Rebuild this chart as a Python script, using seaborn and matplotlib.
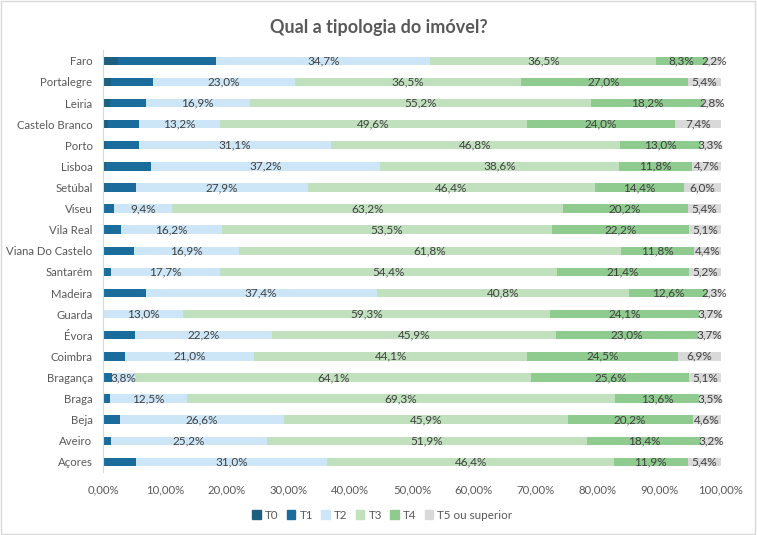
import numpy as np
import pandas as pd
import matplotlib
matplotlib.use("Agg")
import matplotlib.pyplot as plt
import matplotlib.patches as mpatches
import seaborn as sns

# Data (percent)
regions = ['Faro', 'Portalegre', 'Leiria', 'Castelo Branco', 'Porto', 'Lisboa',
           'Setúbal', 'Viseu', 'Vila Real', 'Viana Do Castelo', 'Santarém',
           'Madeira', 'Guarda', 'Évora', 'Coimbra', 'Bragança', 'Braga',
           'Beja', 'Aveiro', 'Açores']
t0 = [2.4, 1.3, 1.1, 0.8, 0.5, 0.5, 0.3, 0.0, 0.0, 0.0, 0.0,
      0.0, 0.0, 0.0, 0.0, 0.0, 0.0, 0.0, 0.0, 0.0]
t1 = [15.9, 6.8, 5.8, 5.0, 5.3, 7.2, 5.0, 1.8, 3.0, 5.1, 1.3,
      6.9, 0.0, 5.2, 3.5, 1.4, 1.1, 2.7, 1.3, 5.3]
t2 = [34.7, 23.0, 16.9, 13.2, 31.1, 37.2, 27.9, 9.4, 16.2, 16.9, 17.7,
      37.4, 13.0, 22.2, 21.0, 3.8, 12.5, 26.6, 25.2, 31.0]
t3 = [36.5, 36.5, 55.2, 49.6, 46.8, 38.6, 46.4, 63.2, 53.5, 61.8, 54.4,
      40.8, 59.3, 45.9, 44.1, 64.1, 69.3, 45.9, 51.9, 46.4]
t4 = [8.3, 27.0, 18.2, 24.0, 13.0, 11.8, 14.4, 20.2, 22.2, 11.8, 21.4,
      12.6, 24.1, 23.0, 24.5, 25.6, 13.6, 20.2, 18.4, 11.9]
t5 = [2.2, 5.4, 2.8, 7.4, 3.3, 4.7, 6.0, 5.4, 5.1, 4.4, 5.2,
      2.3, 3.7, 3.7, 6.9, 5.1, 3.5, 4.6, 3.2, 5.4]

series = ['T0', 'T1', 'T2', 'T3', 'T4', 'T5 ou superior']
colors = ['#1d5f7f', '#1a6c9c', '#cce6f7', '#c0e0be', '#8fca8f', '#d9d9d9']

df = pd.DataFrame({'regiao': regions, 'T0': t0, 'T1': t1, 'T2': t2,
                   'T3': t3, 'T4': t4, 'T5 ou superior': t5})
cum = df[series].cumsum(axis=1)

plt.rcParams['font.family'] = ['Lato', 'DejaVu Sans']
fig = plt.figure(figsize=(7.57, 5.35), dpi=100)
ax = fig.add_axes([0.136, 0.117, 0.8164, 0.789])

# stacked bars: draw cumulative totals from the largest down
for s, c in reversed(list(zip(series, colors))):
    sns.barplot(x=cum[s], y=df['regiao'], orient='h', color=c,
                width=0.4, ax=ax, saturation=1, edgecolor='none')

# value labels for T2..T5
for i in range(len(regions)):
    for s in series[2:]:
        v = df[s][i]
        center = cum[s][i] - v / 2
        ax.text(center, i, f'{v:.1f}%'.replace('.', ','), ha='center',
                va='center', fontsize=8.5, color='#404040')

ax.set_xlim(0, 100)
ax.set_ylim(len(regions) - 0.5, -0.5)
ax.set_xticks(np.arange(0, 101, 10))
ax.set_xticklabels([f'{t:.2f}%'.replace('.', ',') for t in np.arange(0, 101, 10)])
ax.set_xlabel('')
ax.set_ylabel('')
ax.tick_params(axis='both', length=0, labelsize=8.2, colors='#595959', pad=9)
ax.tick_params(axis='y', pad=7.5)
for sp in ['top', 'right', 'bottom']:
    ax.spines[sp].set_visible(False)
ax.spines['left'].set_color('#d9d9d9')

fig.suptitle('Qual a tipologia do imóvel?', x=0.5, y=0.965, fontsize=13,
             fontweight='bold', color='#595959')

handles = [mpatches.Patch(color=c, label=s) for s, c in zip(series, colors)]
fig.legend(handles=handles, loc='center', bbox_to_anchor=(0.505, 0.037), ncol=6,
           frameon=False, fontsize=8.4, handlelength=0.75, handleheight=0.75,
           handletextpad=0.35, columnspacing=0.7, labelcolor='#595959')

fig.patches.append(mpatches.Rectangle((0.001, 0.001), 0.997, 0.997,
                                      transform=fig.transFigure, fill=False,
                                      edgecolor='#d9d9d9', linewidth=1))

fig.savefig('out.png', dpi=100)
